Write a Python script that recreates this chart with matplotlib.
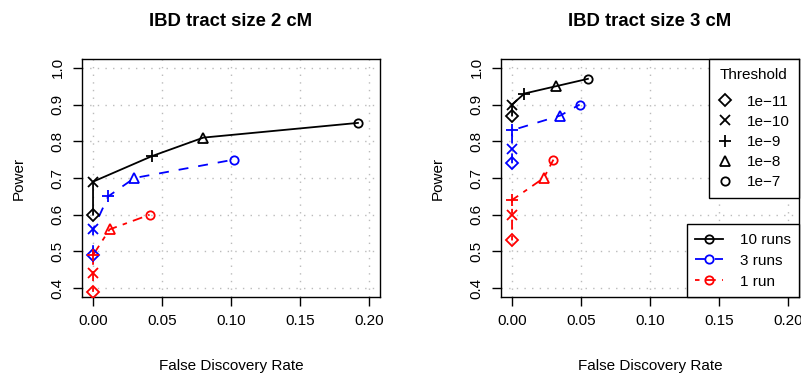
import numpy as np
import matplotlib.pyplot as plt
from matplotlib.lines import Line2D

plt.rcParams['font.family'] = ['Liberation Sans', 'DejaVu Sans']

# thresholds, one marker each
thresholds = ['1e\u221211', '1e\u221210', '1e\u22129', '1e\u22128', '1e\u22127']
markers = ['D', 'x', '+', '^', 'o']

# 2 cM panel: false discovery rate / power per threshold
fdr2_10 = [0.0, 0.0, 0.043, 0.080, 0.192]
pow2_10 = [0.60, 0.69, 0.76, 0.81, 0.85]
fdr2_3 = [0.0, 0.0, 0.011, 0.030, 0.102]
pow2_3 = [0.49, 0.56, 0.65, 0.70, 0.75]
fdr2_1 = [0.0, 0.0, 0.0, 0.012, 0.041]
pow2_1 = [0.39, 0.44, 0.49, 0.56, 0.60]

# 3 cM panel
fdr3_10 = [0.0, 0.0, 0.009, 0.032, 0.055]
pow3_10 = [0.87, 0.90, 0.93, 0.95, 0.97]
fdr3_3 = [0.0, 0.0, 0.0, 0.035, 0.049]
pow3_3 = [0.74, 0.78, 0.83, 0.87, 0.90]
fdr3_1 = [0.0, 0.0, 0.0, 0.023, 0.030]
pow3_1 = [0.53, 0.60, 0.64, 0.70, 0.75]

runs = ['10 runs', '3 runs', '1 run']
colors = ['black', 'blue', 'red']
styles = ['-', (0, (5.5, 5.5)), (0, (2.5, 3.5, 5.5, 3.5))]
msizes = [6.5, 6.5, 9, 7, 6]

fig = plt.figure(figsize=(8.01, 3.75), dpi=100)
ax1 = fig.add_axes([82/801, 78/375, 298/801, 238/375])
ax2 = fig.add_axes([501/801, 78/375, 298/801, 238/375])

panels = [
    (ax1, 'IBD tract size 2 cM', [(fdr2_10, pow2_10), (fdr2_3, pow2_3), (fdr2_1, pow2_1)]),
    (ax2, 'IBD tract size 3 cM', [(fdr3_10, pow3_10), (fdr3_3, pow3_3), (fdr3_1, pow3_1)]),
]

for ax, title, series in panels:
    ax.set_xlim(-0.008, 0.208)
    ax.set_ylim(0.376, 1.024)
    xt = [0, 0.05, 0.10, 0.15, 0.20]
    yt = [0.4, 0.5, 0.6, 0.7, 0.8, 0.9, 1.0]
    ax.set_xticks(xt)
    ax.set_xticklabels(['0.00', '0.05', '0.10', '0.15', '0.20'])
    ax.set_yticks(yt)
    ax.set_yticklabels(['%.1f' % v for v in yt], rotation=90, va='center')
    ax.tick_params(labelsize=11, length=6.5, width=1, pad=6)
    ax.grid(True, color='#bbbbbb', linestyle=(0, (1, 4.5)), linewidth=1)
    for s in ax.spines.values():
        s.set_linewidth(1)
    for (x, y), c, ls in zip(series, colors, styles):
        ax.plot(x, y, color=c, linestyle=ls, linewidth=1.3, zorder=3)
        for xi, yi, m, ms in zip(x, y, markers, msizes):
            ax.plot(xi, yi, marker=m, ms=ms, mfc='none', mec=c, mew=1.3,
                    linestyle='none', zorder=4)
    ax.set_title(title, fontsize=13.3, fontweight='bold', pad=24)
    ax.set_xlabel('False Discovery Rate', fontsize=11, labelpad=22)
    ax.set_ylabel('Power', fontsize=11, labelpad=18)

# legends in the right panel
th_handles = [Line2D([], [], marker=m, ms=ms, mfc='none', mec='black', mew=1.3,
                     linestyle='none') for m, ms in zip(markers, msizes)]
leg1 = ax2.legend(th_handles, thresholds, title='Threshold', loc='upper right',
                  fontsize=11, title_fontsize=11, borderaxespad=0, fancybox=False,
                  framealpha=1, edgecolor='black', handlelength=0.9,
                  handletextpad=1.0, labelspacing=0.4, borderpad=0.6)
leg1.get_frame().set_linewidth(1)
leg1._legend_box.sep = 9
ax2.add_artist(leg1)

run_handles = [Line2D([], [], color=c, linestyle=ls, linewidth=1.3, marker='o',
                      ms=6, mfc='none', mec=c, mew=1.3)
               for c, ls in zip(colors, styles)]
leg2 = ax2.legend(run_handles, runs, loc='lower right', fontsize=11,
                  borderaxespad=0, fancybox=False, framealpha=1,
                  edgecolor='black', handlelength=1.8, handletextpad=1.1,
                  labelspacing=0.45, borderpad=0.55)
leg2.get_frame().set_linewidth(1)

fig.savefig('out.png', dpi=100)
